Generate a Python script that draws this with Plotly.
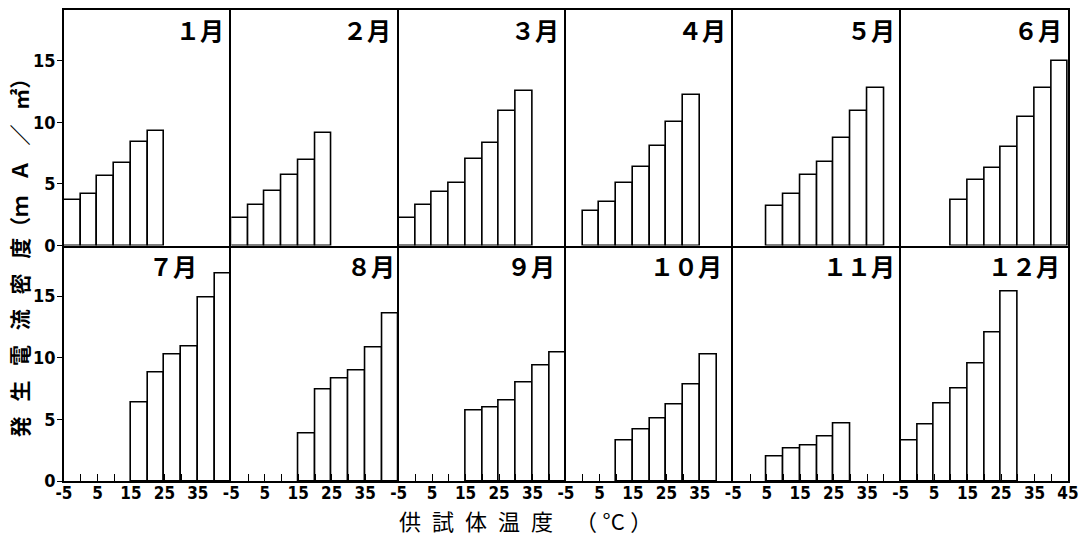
import plotly.graph_objects as go
from plotly.subplots import make_subplots

# Specimen temperature bins (lower edge of each 5 °C class)
bin_lower = [-5, 0, 5, 10, 15, 20, 25, 30, 35, 40]
BIN_W = 5

# Generated current density (mA/m²) per month; None = no measurement in that bin
jan = [3.7, 4.2, 5.6, 6.7, 8.4, 9.3, None, None, None, None]
feb = [2.2, 3.3, 4.4, 5.7, 6.9, 9.1, None, None, None, None]
mar = [2.2, 3.3, 4.3, 5.1, 7.0, 8.3, 10.9, 12.5, None, None]
apr = [None, 2.8, 3.5, 5.1, 6.4, 8.1, 10.0, 12.2, None, None]
may = [None, None, 3.2, 4.2, 5.7, 6.8, 8.7, 10.9, 12.8, None]
jun = [None, None, None, 3.7, 5.3, 6.3, 8.0, 10.4, 12.8, 15.0]
jul = [None, None, None, None, 6.4, 8.8, 10.3, 10.9, 14.9, 16.8]
aug = [None, None, None, None, 3.85, 7.4, 8.3, 9.0, 10.8, 13.55]
sep = [None, None, None, None, 5.7, 6.0, 6.5, 8.0, 9.4, 10.4]
oct_ = [None, None, None, 3.3, 4.2, 5.1, 6.2, 7.8, 10.3, None]
nov = [None, None, 2.0, 2.6, 2.9, 3.6, 4.7, None, None, None]
dec = [3.3, 4.6, 6.3, 7.5, 9.5, 12.05, 15.4, None, None, None]

months = [jan, feb, mar, apr, may, jun, jul, aug, sep, oct_, nov, dec]
month_labels = ["１月", "２月", "３月", "４月", "５月", "６月",
                "７月", "８月", "９月", "１０月", "１１月", "１２月"]
# right edge of each month label, in temperature units of its panel
label_right = [43.5, 43.3, 43.6, 43.3, 43.8, 43.8,
               35.2, 44.4, 42.2, 42.1, 43.8, 43.2]

y_ticks = [0, 5, 10, 15]
x_tick_vals = [-5, 0, 5, 10, 15, 20, 25, 30, 35, 40, 45]
x_tick_text = ["-5", "", "5", "", "15", "", "25", "", "35", "", ""]
x_tick_text_last = ["-5", "", "5", "", "15", "", "25", "", "35", "", "45"]

Y_MAX = 19.1
NARROW = "Liberation Sans Narrow, DejaVu Sans Condensed, Arial Narrow, sans-serif"
X_NUM_FONT = dict(family=NARROW, size=17, color="black", weight="bold")
Y_NUM_FONT = dict(family=NARROW, size=18, color="black", weight="bold")
CJK = "Noto Sans CJK JP"
LW = 1.6

fig = make_subplots(rows=2, cols=6, horizontal_spacing=0, vertical_spacing=0)

for i, vals in enumerate(months):
    r, c = i // 6 + 1, i % 6 + 1
    xs = [b + BIN_W / 2 for b, v in zip(bin_lower, vals) if v is not None]
    ys = [v for v in vals if v is not None]
    fig.add_trace(
        go.Bar(x=xs, y=ys, width=BIN_W,
               marker=dict(color="white", line=dict(color="black", width=LW)),
               showlegend=False, hoverinfo="x+y"),
        row=r, col=c)

    # each frame edge is drawn once: left/bottom lines everywhere,
    # top edge only on the upper row, right edge only on the last column
    xa = dict(range=[-5, 45], showline=True, mirror=(r == 1), linecolor="black",
              linewidth=LW, showgrid=False, zeroline=False)
    if r == 2:
        xa.update(tickmode="array", tickvals=x_tick_vals,
                  ticktext=x_tick_text_last if c == 6 else x_tick_text,
                  ticks="inside", ticklen=7, tickwidth=1.4, tickcolor="black",
                  tickfont=X_NUM_FONT, ticklabelstandoff=-4)
    else:
        xa.update(showticklabels=False, ticks="")
    fig.update_xaxes(row=r, col=c, **xa)

    ya = dict(range=[0, Y_MAX], showline=True, mirror=(c == 6), linecolor="black",
              linewidth=LW, showgrid=False, zeroline=False)
    if c == 1:
        ya.update(tickmode="array", tickvals=y_ticks, ticks="outside",
                  ticklen=5, tickwidth=1.4, tickcolor="black", tickfont=Y_NUM_FONT,
                  ticklabelstandoff=-2)
    else:
        ya.update(showticklabels=False, ticks="")
    fig.update_yaxes(row=r, col=c, **ya)

    idx = "" if i == 0 else str(i + 1)
    fig.add_annotation(text=month_labels[i], x=label_right[i], y=17.5,
                       xref="x" + idx, yref="y" + idx,
                       xanchor="right", yanchor="middle", showarrow=False,
                       font=dict(family=CJK, size=24, color="black", weight="bold"))

# axis titles, spaced out along their reading direction
sp_y = "\u2002\u2009"
y_title = sp_y.join("発生電流密度") + "（ｍ" + sp_y + "Ａ" + sp_y + "／" + sp_y + "㎡）"
x_title = "\u2002".join("供試体温度") + "\u2003（\u2005°C\u2005）"

fig.add_annotation(text=y_title, xref="paper", yref="paper", x=-0.0451, y=0.485,
                   textangle=-90, showarrow=False, xanchor="center", yanchor="middle",
                   font=dict(family=CJK, size=21, color="black", weight="bold"))
fig.add_annotation(text=x_title, xref="paper", yref="paper", x=0.3315, y=-0.082,
                   showarrow=False, xanchor="left", yanchor="middle",
                   font=dict(family=CJK, size=22, color="black"))

fig.update_layout(width=1087, height=535,
                  margin=dict(l=64, r=14, t=8, b=54),
                  paper_bgcolor="white", plot_bgcolor="white",
                  bargap=0, showlegend=False)

fig.write_html("out.html")
